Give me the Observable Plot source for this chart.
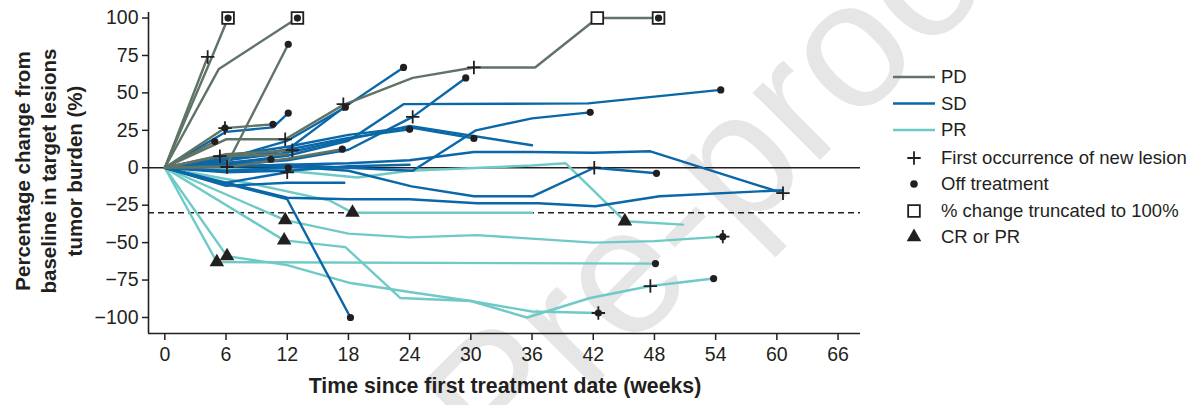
<!DOCTYPE html>
<html><head><meta charset="utf-8">
<script src="https://cdn.jsdelivr.net/npm/d3@7"></script>
<script src="https://cdn.jsdelivr.net/npm/@observablehq/plot@0.6"></script>
<style>body{margin:0;background:#fff} svg{display:block}</style>
</head><body><div id="chart"></div>
<script>
const xTicks = [0, 6, 12, 18, 24, 30, 36, 42, 48, 54, 60, 66];
const yTicks = [-100, -75, -50, -25, 0, 25, 50, 75, 100];
const xDomain = [-1.6, 68.2];
const yDomain = [-110.7, 103.7];
const groups = ["PD", "SD", "PR"];
const groupColors = ["#5f7366", "#0a67a8", "#6fcac7"];

// [week, % change] per patient
const pdSeries = [
  [[0,0],[4.2,74]],
  [[0,0],[4.5,72],[6.2,100]],
  [[0,0],[5.3,66],[13,100]],
  [[0,0],[6,1],[12.1,82.5]],
  [[0,0],[5.9,26.5],[10.6,29]],
  [[0,0],[4.9,17.5]],
  [[0,0],[6,19],[11.8,19],[17.5,42],[24.3,60],[30.3,67],[36.3,67],[42.4,100],[48.4,100]],
  [[0,0],[5.4,7.7],[12,9]],
  [[0,0],[6,9],[12.5,11.7]],
  [[0,0],[6.1,0.5],[12,6],[17.4,12.4]]
];
const sdSeries = [
  [[0,0],[6,5],[12,12],[17.5,40],[23.4,67]],
  [[0,0],[6,6],[12,18],[17.7,40.4]],
  [[0,0],[6,2],[12,5],[18,12],[24.3,34],[29.5,60]],
  [[0,0],[6,3],[12,8],[18,18],[23.4,42.5],[41.5,43],[54.5,52]],
  [[0,0],[6,1],[12,2],[18,0],[24.3,-2],[30.5,25],[36,33],[41.7,37]],
  [[0,0],[6,6],[12,12],[18,20],[24,25.7]],
  [[0,0],[6,8],[12,14],[18,22],[24,27],[30.3,19.6]],
  [[0,0],[6,5],[12,10],[18,19],[24,28],[36,15]],
  [[0,0],[6,1],[12,2],[18,3],[24,5],[30.3,10.5],[36,10.5],[42,10],[47.6,11],[60.6,-17]],
  [[0,0],[6,1],[12,1],[18,-2],[24.2,-12.4],[30.3,-19],[36.1,-19],[42.1,0],[48.2,-3.7]],
  [[0,0],[12,-20],[18,-21],[24,-21],[30.6,-23.7],[36.6,-23.7],[42.2,-25.7],[48.5,-19],[60.6,-15]],
  [[0,0],[12,-21],[18.2,-100]],
  [[0,0],[6,-12],[12,-10],[17.6,-10]],
  [[0,0],[5.6,-10.5],[12,-3]],
  [[0,0],[6,-2],[12.1,0]],
  [[0,0],[10.4,5.7]],
  [[0,0],[6,24],[10.6,27],[12.1,36.5]],
  [[0,0],[6,-3],[12,-2],[18,1],[24,2]]
];
const prSeries = [
  [[0,0],[5.1,-63],[48.1,-64]],
  [[0,0],[6.1,-59],[12,-65],[18.2,-77],[24,-83],[30,-89],[35.5,-100],[41.7,-87],[47.6,-79],[53.8,-74]],
  [[0,0],[11.7,-48.5],[17.7,-53],[23.1,-87],[30,-89],[36,-96],[42.5,-97]],
  [[0,0],[11.8,-35],[18,-44],[24,-46.5],[30.6,-45],[42,-50],[48,-49],[54.7,-46]],
  [[0,0],[8.4,-10.5],[16.2,-22],[18.4,-30],[36,-30]],
  [[0,0],[12,-2],[18.9,-6.5],[24,-2],[36,1.5],[39.3,3],[45.1,-35.7],[50.8,-38]]
];

// event markers [week, % change]
const newLesion = [[4.2,74],[5.9,26.5],[5.4,7.7],[6.1,0.5],[11.8,19],[12.5,11.7],[17.5,42.5],[30.3,67],[24.3,34],[12,-3],[42.1,0],[60.6,-17],[47.6,-79],[42.5,-97],[54.7,-46]];
const offTreatment = [[6.2,100],[13,100],[48.4,100],[12.1,82.5],[10.6,29],[12.1,36.5],[4.9,17.5],[5.9,26.5],[10.4,5.7],[12.1,0],[17.4,12.4],[17.7,40.4],[23.4,67],[29.5,60],[24,25.7],[30.3,19.6],[41.7,37],[54.5,52],[48.2,-3.7],[18.2,-100],[48.1,-64],[53.8,-74],[42.5,-97],[54.7,-46]];
const truncated = [[6.2,100],[13,100],[42.4,100],[48.4,100]];
const response = [[5.1,-63],[6.1,-59],[11.7,-48.5],[11.8,-35],[18.4,-30],[45.1,-35.7]];

const legendLabels = ["PD", "SD", "PR", "First occurrence of new lesion", "Off treatment", "% change truncated to 100%", "CR or PR"];
const yTitle = ["Percentage change from", "baseline in target lesions", "tumor burden (%)"];
const xTitle = "Time since first treatment date (weeks)";
const watermark = "Pre-proof";

const ink = "#231f20";
const font = "'Liberation Sans', Arial, Helvetica, sans-serif";

const rows = [];
[["PR", prSeries], ["SD", sdSeries], ["PD", pdSeries]].forEach(([g, list]) =>
  list.forEach((s, i) => s.forEach(([w, v]) => rows.push({id: g + i, group: g, week: w, value: v}))));

const px = d => d[0], py = d => d[1];

const chart = Plot.plot({
  width: 1199, height: 405,
  marginLeft: 148, marginRight: 339, marginTop: 12, marginBottom: 72,
  style: {fontFamily: font, color: ink, background: "transparent"},
  x: {domain: xDomain, axis: null},
  y: {domain: yDomain, axis: null},
  color: {domain: groups, range: groupColors},
  marks: [
    Plot.ruleY([0], {stroke: ink, strokeWidth: 1.6}),
    Plot.ruleY([-30], {stroke: ink, strokeWidth: 1.6, strokeDasharray: "6,4"}),
    Plot.line(rows, {x: "week", y: "value", z: "id", stroke: "group", strokeWidth: 2.4, strokeLinejoin: "miter"}),
    Plot.dot(truncated, {x: px, y: py, symbol: "square", r: 6.6, fill: "white", stroke: ink, strokeWidth: 1.8}),
    Plot.dot(offTreatment, {x: px, y: py, r: 3.6, fill: ink}),
    Plot.dot(response, {x: px, y: py, symbol: "triangle", r: 5.4, fill: ink}),
    Plot.dot(newLesion, {x: px, y: py, symbol: "plus", r: 4.4, stroke: ink, strokeWidth: 1.8}),
    Plot.ruleX([xDomain[0]], {stroke: ink, strokeWidth: 1.6}),
    Plot.ruleY([yDomain[0]], {stroke: ink, strokeWidth: 1.6}),
    Plot.axisX(xTicks, {tickSize: 7, tickPadding: 7, fontSize: 19.5, stroke: ink, strokeWidth: 1.5, fill: ink, label: null}),
    Plot.axisY(yTicks, {tickSize: 6, tickPadding: 4, fontSize: 19.5, stroke: ink, strokeWidth: 1.5, fill: ink, label: null})
  ]
});

const svg = d3.select(chart);
// watermark
svg.insert("text", ":first-child")
  .attr("transform", "translate(500,480) rotate(-45)")
  .attr("text-anchor", "start")
  .attr("font-family", font).attr("font-size", 180)
  .attr("fill", "#e6e6e6").text(watermark);

// axis titles
svg.append("text").attr("x", 505).attr("y", 393).attr("text-anchor", "middle")
  .attr("font-family", font).attr("font-size", 21.3).attr("font-weight", "bold").attr("fill", ink)
  .text(xTitle);
yTitle.forEach((t, i) => {
  svg.append("text").attr("transform", `translate(${25 + i * 26},171) rotate(-90)`)
    .attr("text-anchor", "middle").attr("dominant-baseline", "middle")
    .attr("font-family", font).attr("font-size", 20.5).attr("font-weight", "bold").attr("fill", ink)
    .text(t);
});

// legend
const lg = svg.append("g").attr("font-family", font).attr("font-size", 18.5).attr("fill", ink).attr("text-anchor", "start");
const legendY = [77, 103.5, 130, 158, 184, 211, 237];
legendLabels.forEach((t, i) => {
  const y = legendY[i];
  if (i < 3) {
    lg.append("line").attr("x1", 893).attr("x2", 935).attr("y1", y).attr("y2", y)
      .attr("stroke", groupColors[i]).attr("stroke-width", 2.4);
  } else {
    const specs = [
      [d3.symbolPlus, 4.4, "none", ink],
      [d3.symbolCircle, 3.8, ink, "none"],
      [d3.symbolSquare, 6.6, "white", ink],
      [d3.symbolTriangle, 5.4, ink, "none"]
    ][i - 3];
    lg.append("path").attr("transform", `translate(914,${y})`)
      .attr("d", d3.symbol(specs[0], Math.PI * specs[1] * specs[1])())
      .attr("fill", specs[2]).attr("stroke", specs[3]).attr("stroke-width", 1.8);
  }
  lg.append("text").attr("x", 941).attr("y", y).attr("dy", "0.35em").attr("text-anchor", "start").text(t);
});

document.getElementById("chart").appendChild(chart);
</script>
</body></html>
